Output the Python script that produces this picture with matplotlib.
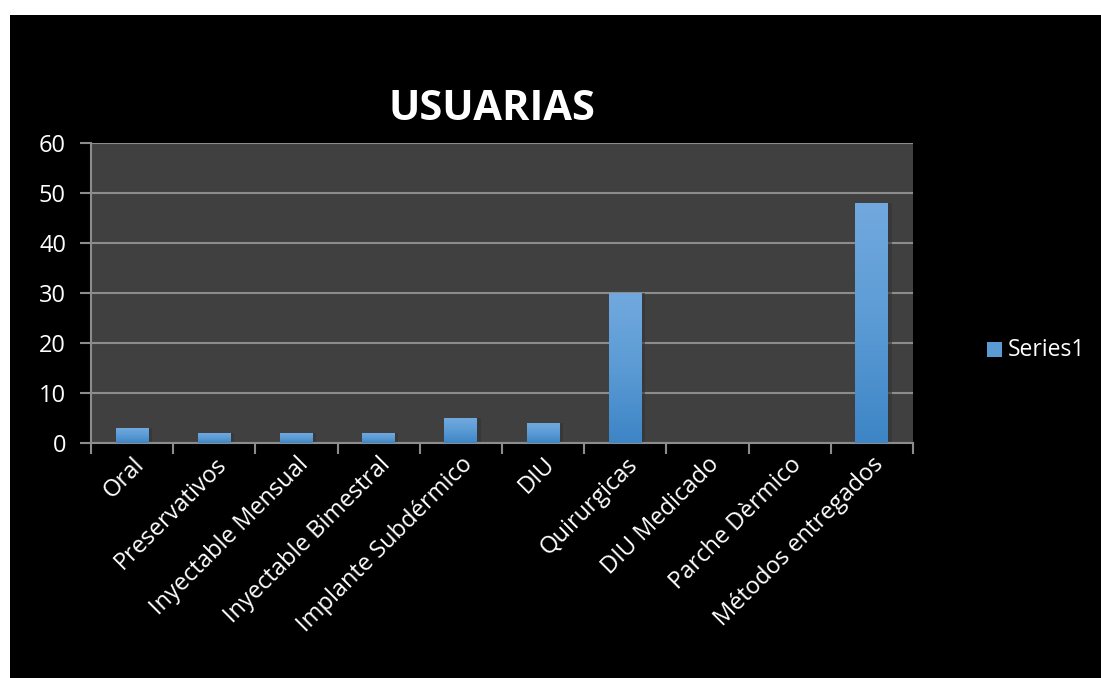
import matplotlib.pyplot as plt
import numpy as np
from matplotlib.colors import LinearSegmentedColormap
from matplotlib.patches import Rectangle

plt.rcParams['font.family'] = ['Open Sans', 'DejaVu Sans']

# Datos
metodos = ["Oral", "Preservativos", "Inyectable Mensual", "Inyectable Bimestral",
           "Implante Subdérmico", "DIU", "Quirurgicas", "DIU Medicado",
           "Parche Dèrmico", "Métodos entregados"]
usuarias = [3, 2, 2, 2, 5, 4, 30, 0, 0, 48]
serie = "Series1"
titulo = "USUARIAS"

fig = plt.figure(figsize=(11.01, 6.78), dpi=100, facecolor='white')
# fondo negro del gráfico (deja un margen blanco arriba e izquierda)
fig.add_artist(Rectangle((10 / 1101, 0), 1, 1 - 15 / 678, transform=fig.transFigure,
                         facecolor='black', edgecolor='none', zorder=-5))

ax = fig.add_axes([91 / 1101, 235 / 678, 822 / 1101, 300 / 678])
ax.set_zorder(2)
ax.set_facecolor('#404040')

x = np.arange(len(metodos))
grad = LinearSegmentedColormap.from_list('azul', ['#3d85c6', '#5b9bd5', '#71a9de'])
bars = ax.bar(x, usuarias, width=0.4, color='#5b9bd5', zorder=3)

# degradado vertical dentro de cada barra
for b in bars:
    h = b.get_height()
    if h <= 0:
        continue
    x0 = b.get_x()
    w = b.get_width()
    img = ax.imshow(np.linspace(1, 0, 100).reshape(-1, 1), cmap=grad, aspect='auto',
                    extent=[x0, x0 + w, 0, h], zorder=4)
    img.set_clip_path(b)
    # sombra suave a la derecha
    ax.add_patch(Rectangle((x0 + w, 0), 0.04, h, facecolor='#333333', edgecolor='none',
                           alpha=0.6, zorder=2))

ax.set_xlim(-0.5, len(metodos) - 0.5)
ax.set_ylim(0, 60)
ax.set_yticks(range(0, 61, 10))
ax.yaxis.grid(True, color='#8c8c8c', linewidth=1.5, zorder=1)
ax.set_axisbelow(True)

for s in ['top', 'right']:
    ax.spines[s].set_visible(False)
for s in ['left', 'bottom']:
    ax.spines[s].set_color('#8c8c8c')
    ax.spines[s].set_linewidth(1.5)

ax.tick_params(axis='y', colors='#8c8c8c', length=8, width=1.5, labelsize=17,
               labelcolor='white', pad=10)
ax.set_xticks(x)
ax.set_xticklabels(metodos, rotation=45, ha='right', rotation_mode='anchor',
                   fontsize=17, color='white')
ax.tick_params(axis='x', length=0, pad=7)
ax.set_xticks(np.arange(-0.5, len(metodos), 1), minor=True)
ax.tick_params(axis='x', which='minor', length=8, width=1.5, colors='#8c8c8c')

fig.text(492 / 1101, 1 - 110 / 678, titulo, ha='center', va='center',
         fontsize=30, fontweight='bold', color='white')

# leyenda
fig.add_artist(Rectangle((987 / 1101, 1 - 357 / 678), 15 / 1101, 15 / 678,
                         transform=fig.transFigure, facecolor='#5b9bd5',
                         edgecolor='none', zorder=2))
fig.text(1008 / 1101, 1 - 350 / 678, serie, ha='left', va='center',
         fontsize=16.5, color='white')

fig.savefig('out.png', dpi=100, facecolor='white')
